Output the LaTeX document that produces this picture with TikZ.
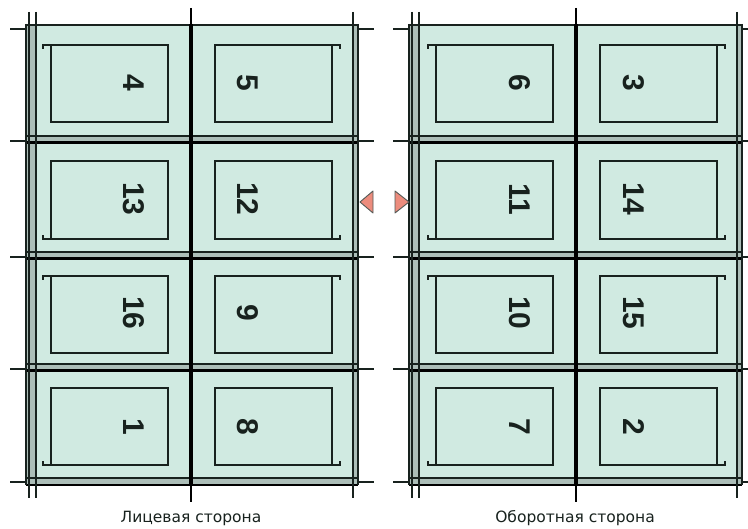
\documentclass[tikz,border=0pt]{standalone}
\usepackage{fontspec}
\setmainfont{Liberation Sans}
\newfontfamily\labelfont{DejaVu Sans}
\definecolor{mint}{RGB}{208,234,225}
\definecolor{band}{RGB}{172,190,184}
\definecolor{ink}{RGB}{24,34,30}
\definecolor{trifill}{RGB}{236,140,125}
\begin{document}
\begin{tikzpicture}[x=1pt,y=-1pt,
  thinline/.style={draw=ink,line width=1.3pt},
  thickline/.style={draw=black,line width=3pt},
  pagebox/.style={draw=ink,line width=2pt},
  pagenum/.style={font=\fontsize{30}{34}\selectfont\bfseries,text=ink,rotate=-90,inner sep=0pt},
  sidelabel/.style={font=\labelfont\fontsize{15.5}{18}\selectfont,text=ink,inner sep=0pt},
  marker/.style={fill=trifill,draw=ink!75,line width=0.9pt,line join=round}]
\useasboundingbox (0,0) rectangle (748,529);
\fill[white] (0,0) rectangle (748,529);

\foreach \L/\C/\R in {26/191/358, 409/576/742}{
  % sheet fill
  \fill[mint] (\L,24) rectangle (\R,484);
  \fill[band] (\L,24) rectangle (\L+10,484);
  \fill[band] (\R-5,24) rectangle (\R,484);
  % horizontal dividers
  \foreach \y in {141,257,369}{
    \fill[band] (\L,\y-5) rectangle (\R,\y+2);
    \draw[thinline] (\L,\y-5) -- (\R,\y-5);
    \draw[thickline] (\L,\y+2) -- (\R,\y+2);
    \draw[thinline,line width=1.5pt] (\L-16,\y) -- (\L,\y) (\R,\y) -- (\R+16,\y);
  }
  % top and bottom edges
  \draw[thinline,line width=2.2pt] (\L,25) -- (\R,25);
  \draw[thinline,line width=1.5pt] (\L-16,29) -- (\L,29) (\R,29) -- (\R+16,29);
  \fill[band] (\L,478) rectangle (\R,485);
  \draw[thinline] (\L,478) -- (\R,478);
  \draw[thickline,line width=2.4pt] (\L,485) -- (\R,485);
  \draw[thinline,line width=1.5pt] (\L-16,482) -- (\L,482) (\R,482) -- (\R+16,482);
  % left edge lines
  \draw[thinline] (\L,24) -- (\L,485);
  \draw[thinline,line width=1.5pt] (\L+3,12) -- (\L+3,498);
  \draw[thinline,line width=1.5pt] (\L+10,12) -- (\L+10,498);
  % right edge lines
  \draw[thinline,line width=1.5pt] (\R-5,12) -- (\R-5,498);
  \draw[thinline] (\R,24) -- (\R,485);
  % centre fold
  \draw[draw=black,line width=1.5pt] (\C,8) -- (\C,502);
  \draw[draw=black,line width=3.4pt] (\C,24) -- (\C,485);
  % inner page boxes with hooks
  \foreach \t/\b/\h in {45/122/1, 161/239/0, 276/353/1, 388/465/0}{
    \draw[pagebox] (\C-140,\t) rectangle (\C-23,\b);
    \draw[pagebox] (\C+24,\t) rectangle (\C+141,\b);
    \ifnum\h=1
      \draw[pagebox] (\C-140,\t) -- (\C-148,\t) -- (\C-148,\t+4);
      \draw[pagebox] (\C+141,\t) -- (\C+149,\t) -- (\C+149,\t+4);
    \else
      \draw[pagebox] (\C-140,\b) -- (\C-148,\b) -- (\C-148,\b-4);
      \draw[pagebox] (\C+141,\b) -- (\C+149,\b) -- (\C+149,\b-4);
    \fi
  }
}

% page numbers, front side
\node[pagenum] (a1) at (134,83)  {4};
\node[pagenum] (a2) at (248,83)  {5};
\node[pagenum] (a3) at (134,199) {13};
\node[pagenum] (a4) at (248,199) {12};
\node[pagenum] (a5) at (134,313) {16};
\node[pagenum] (a6) at (248,313) {9};
\node[pagenum] (a7) at (134,427) {1};
\node[pagenum] (a8) at (248,427) {8};
% page numbers, back side
\node[pagenum] (b1) at (520,83)  {6};
\node[pagenum] (b2) at (634,83)  {3};
\node[pagenum] (b3) at (520,199) {11};
\node[pagenum] (b4) at (634,199) {14};
\node[pagenum] (b5) at (520,313) {10};
\node[pagenum] (b6) at (634,313) {15};
\node[pagenum] (b7) at (520,427) {7};
\node[pagenum] (b8) at (634,427) {2};

% turn markers
\draw[marker] (373,191) -- (373,213) -- (360,202) -- cycle;
\draw[marker] (395,191) -- (395,213) -- (409,202) -- cycle;

% captions
\node[sidelabel] (capa) at (191,518) {Лицевая сторона};
\node[sidelabel] (capb) at (575,518) {Оборотная сторона};
\end{tikzpicture}
\end{document}
